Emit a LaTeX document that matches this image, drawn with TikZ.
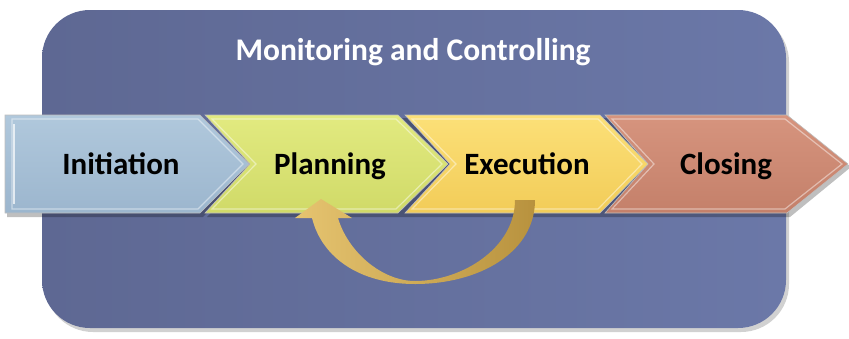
\documentclass[tikz,border=0pt]{standalone}
\usepackage{fontspec}
\setmainfont{Carlito}
\usetikzlibrary{shadows,fadings}
\definecolor{bgA}{HTML}{5E6893}
\definecolor{bgB}{HTML}{6B78A8}
\definecolor{iniA}{HTML}{B0C8DC}
\definecolor{iniB}{HTML}{9CB6CE}
\definecolor{plaA}{HTML}{E2EA80}
\definecolor{plaB}{HTML}{D0DA68}
\definecolor{exeA}{HTML}{FCE078}
\definecolor{exeB}{HTML}{F2CC58}
\definecolor{cloA}{HTML}{D6947E}
\definecolor{cloB}{HTML}{C4806A}
\definecolor{arrA}{HTML}{E6C470}
\definecolor{arrB}{HTML}{B8923E}
\tikzset{
  chev/.style={draw=black!25, line width=0.6pt},
  bevel/.style={draw=white, draw opacity=0.45, line width=1.2pt},
  label/.style={font=\bfseries\fontsize{31}{31}\selectfont, text=black, inner sep=0pt, anchor=base},
  title/.style={font=\bfseries\fontsize{31.5}{31.5}\selectfont, text=white, inner sep=0pt, anchor=base},
}
\begin{document}
\begin{tikzpicture}[x=1pt,y=-1pt]
\useasboundingbox (0,0) rectangle (849,338);
% background panel
\fill[black, opacity=0.18] (45,14) [rounded corners=48pt] rectangle (789,332);
\shade[left color=bgA, right color=bgB, rounded corners=48pt] (42,10) rectangle (786,328);
\node[title] (mc) at (413,60) {Monitoring and Controlling};
% band shadow
\fill[black, opacity=0.25] (7,118) -- (203,118) -- (252,167) -- (203,217) -- (7,217) -- cycle;
\fill[black, opacity=0.25] (207,118) -- (790,118) -- (851,167) -- (790,217) -- (207,217) -- (256,167) -- cycle;
% Closing
\shade[top color=cloA, bottom color=cloB, chev] (605,115) -- (787,115) -- (848,164) -- (787,213) -- (605,213) -- (648,164) -- cycle;
\draw[bevel] (612,119) -- (785,119) -- (842,164) -- (785,209) -- (612,209) -- (654,164) -- cycle;
% Execution
\shade[top color=exeA, bottom color=exeB, chev] (405,115) -- (600,115) -- (648,164) -- (600,213) -- (405,213) -- (450,164) -- cycle;
\draw[bevel] (412,119) -- (598,119) -- (642,164) -- (598,209) -- (412,209) -- (456,164) -- cycle;
% Planning
\shade[top color=plaA, bottom color=plaB, chev] (205,115) -- (398,115) -- (448,164) -- (398,213) -- (205,213) -- (250,164) -- cycle;
\draw[bevel] (212,119) -- (396,119) -- (442,164) -- (396,209) -- (212,209) -- (256,164) -- cycle;
% Initiation
\shade[top color=iniA, bottom color=iniB, chev] (5,115) -- (200,115) -- (249,164) -- (200,213) -- (5,213) -- cycle;
\draw[bevel] (12,119) -- (198,119) -- (243,164) -- (198,209) -- (12,209) -- cycle;
\draw[white, opacity=0.7, line width=1.5pt] (14,124) -- (14,204);
% labels
\node[label] (ini) at (121,174) {Initiation};
\node[label] (pla) at (330,174) {Planning};
\node[label] (exe) at (527,174) {Execution};
\node[label] (clo) at (726,174) {Closing};
% feedback arrow from Execution back to Planning
\shade[left color=arrA, right color=arrB]
  (535,200) .. controls (535,252) and (480,284) .. (415,284)
  .. controls (360,284) and (322,258) .. (312,218)
  -- (295,218) -- (321,199) -- (352,218) -- (338,218)
  .. controls (348,252) and (382,281) .. (415,281)
  .. controls (462,281) and (515,248) .. (515,200) -- cycle;
\end{tikzpicture}
\end{document}
